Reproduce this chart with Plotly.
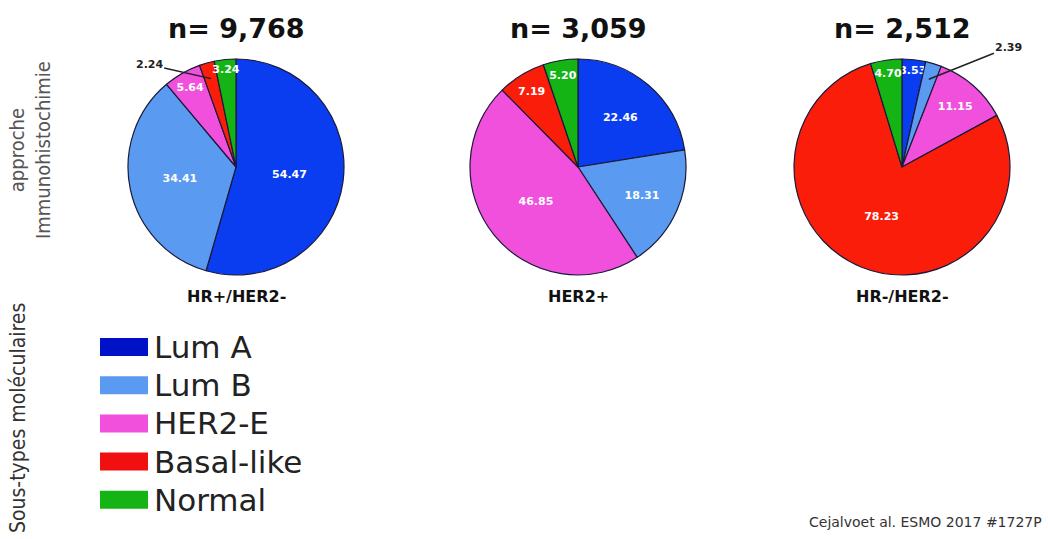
import math
import plotly.graph_objects as go

categories = ["Lum A", "Lum B", "HER2-E", "Basal-like", "Normal"]
colors = ["#0a3cf0", "#5a9af0", "#f050dc", "#fa1e0a", "#14b414"]
legend_colors = ["#0012c8", "#5a9af0", "#f050dc", "#f01010", "#14b414"]

groups = ["HR+/HER2-", "HER2+", "HR-/HER2-"]
n_labels = ["n= 9,768", "n= 3,059", "n= 2,512"]
values_hrpos = [54.47, 34.41, 5.64, 2.24, 3.24]
values_her2 = [22.46, 18.31, 46.85, 7.19, 5.20]
values_tn = [3.53, 2.39, 11.15, 78.23, 4.70]
all_values = [values_hrpos, values_her2, values_tn]

W, H = 1048, 539
centers_x = [236, 578, 902]
center_y = 167
radius = 108
callout_offsets = [(-62, -14), (0, 0), (80, -32)]
NARROW = "DejaVu Sans Condensed, Liberation Sans, Arial, sans-serif"
WIDE = "DejaVu Sans, Verdana, sans-serif"


def ann(x, y, text, size, family, color, xanchor="center", angle=0):
    fig.add_annotation(x=x / W, y=1 - y / H, xref="paper", yref="paper",
                       text=text, showarrow=False, xanchor=xanchor, yanchor="middle",
                       textangle=angle, font=dict(size=size, family=family, color=color))


fig = go.Figure()
for i, vals in enumerate(all_values):
    cx = centers_x[i]
    small = [v < 3 for v in vals]
    positions = ["none" if s else "inside" for s in small]
    fig.add_trace(go.Pie(
        labels=categories, values=vals, sort=False, direction="clockwise",
        rotation=0, marker=dict(colors=colors, line=dict(color="#1a1a3a", width=1.2)),
        texttemplate="<b>%{value:.2f}</b>", textposition=positions,
        insidetextorientation="horizontal",
        insidetextfont=dict(color="white", size=11, family=WIDE),
        domain=dict(x=[(cx - radius) / W, (cx + radius) / W],
                    y=[1 - (center_y + radius) / H, 1 - (center_y - radius) / H]),
        showlegend=False, hoverinfo="label+value",
    ))
    # callout labels for tiny slices, placed from the data's slice angle
    total = sum(vals)
    cum = 0.0
    for v, s in zip(vals, small):
        if s:
            theta = 2 * math.pi * (cum + v / 2) / total
            px = cx + 0.85 * radius * math.sin(theta)
            py = center_y - 0.85 * radius * math.cos(theta)
            axo, ayo = callout_offsets[i]
            fig.add_annotation(x=px / W, y=1 - py / H, xref="paper", yref="paper",
                               text="<b>%.2f</b>" % v, showarrow=True, arrowhead=0,
                               arrowwidth=1.5, arrowcolor="#222", ax=axo, ay=ayo,
                               font=dict(size=11, family=WIDE, color="#222"))
        cum += v
    ann(cx, 28, "<b>%s</b>" % n_labels[i], 27, WIDE, "#111")
    ann(cx, 296, "<b>%s</b>" % groups[i], 16, WIDE, "#111")

# left vertical labels
ann(30, 150, "approche<br>Immunohistochimie", 20, NARROW, "#555", angle=-90)
ann(18, 418, "Sous-types moléculaires", 21, NARROW, "#333", angle=-90)

# custom legend
for j, (cat, col) in enumerate(zip(categories, legend_colors)):
    yc = 347 + j * 38.2
    fig.add_shape(type="rect", xref="paper", yref="paper",
                  x0=100 / W, x1=148 / W, y0=1 - (yc + 9) / H, y1=1 - (yc - 9) / H,
                  fillcolor=col, line=dict(width=0))
    ann(152, yc, cat, 31, WIDE, "#222", xanchor="left")

ann(1044, 522, "Cejalvoet al. ESMO 2017 #1727P", 14, WIDE, "#333", xanchor="right")

fig.update_layout(width=W, height=H, margin=dict(l=0, r=0, t=0, b=0),
                  paper_bgcolor="white", plot_bgcolor="white",
                  uniformtext=dict(minsize=11, mode="show"))
fig.write_html("out.html", config={"displayModeBar": False},
               post_script="document.body.style.margin='0';document.body.style.overflow='hidden';")
